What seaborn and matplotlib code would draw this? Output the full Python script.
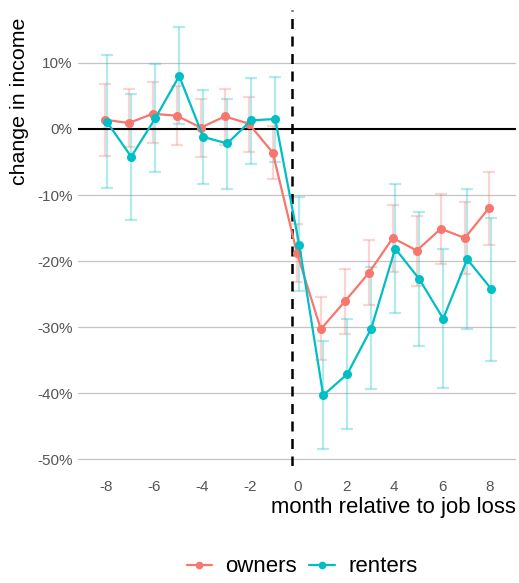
import numpy as np
import pandas as pd
import matplotlib
matplotlib.use("Agg")
import matplotlib.pyplot as plt
from matplotlib.lines import Line2D
from matplotlib.ticker import FuncFormatter
import seaborn as sns

# month relative to job loss
months = [-8, -7, -6, -5, -4, -3, -2, -1, 0, 1, 2, 3, 4, 5, 6, 7, 8]

# owners: estimate and confidence interval (fractions)
owners_est = [0.014, 0.009, 0.023, 0.020, 0.002, 0.019, 0.008, -0.036,
              -0.187, -0.303, -0.261, -0.218, -0.165, -0.184, -0.151, -0.165, -0.120]
owners_hi = [0.068, 0.060, 0.071, 0.065, 0.045, 0.061, 0.048, 0.004,
             -0.144, -0.255, -0.212, -0.168, -0.115, -0.132, -0.098, -0.111, -0.065]
owners_lo = [-0.041, -0.027, -0.022, -0.025, -0.042, -0.025, -0.035, -0.076,
             -0.232, -0.350, -0.310, -0.267, -0.216, -0.237, -0.204, -0.219, -0.176]

# renters: estimate and confidence interval (fractions)
renters_est = [0.010, -0.042, 0.016, 0.080, -0.012, -0.022, 0.013, 0.015,
               -0.175, -0.403, -0.371, -0.302, -0.181, -0.227, -0.287, -0.197, -0.242]
renters_hi = [0.112, 0.053, 0.098, 0.154, 0.059, 0.046, 0.077, 0.079,
              -0.103, -0.321, -0.288, -0.209, -0.084, -0.126, -0.182, -0.091, -0.134]
renters_lo = [-0.089, -0.138, -0.065, 0.008, -0.083, -0.091, -0.053, -0.050,
              -0.245, -0.485, -0.454, -0.394, -0.278, -0.328, -0.392, -0.303, -0.351]

groups = ["owners", "renters"]
colors = {"owners": "#F8766D", "renters": "#00BFC4"}
offsets = {"owners": -0.05, "renters": 0.05}

frames = []
for g, est, lo, hi in [("owners", owners_est, owners_lo, owners_hi),
                       ("renters", renters_est, renters_lo, renters_hi)]:
    frames.append(pd.DataFrame({
        "month": np.array(months, dtype=float) + offsets[g],
        "est": est, "lo": lo, "hi": hi, "group": g,
    }))
df = pd.concat(frames, ignore_index=True)

sns.set_theme(style="white")
plt.rcParams["font.family"] = ["Liberation Sans Narrow", "Liberation Sans", "DejaVu Sans"]
plt.rcParams["axes.unicode_minus"] = False
plt.rcParams["text.color"] = "black"

W, H = 519, 583
fig = plt.figure(figsize=(W / 100, H / 100), dpi=100)
left, right, top, bottom = 78, 516, 10, 466
ax = fig.add_axes([left / W, 1 - bottom / H, (right - left) / W, (bottom - top) / H])

# confidence intervals
for g in groups:
    d = df[df.group == g]
    ax.errorbar(d["month"], d["est"],
                yerr=[d["est"] - d["lo"], d["hi"] - d["est"]],
                fmt="none", ecolor=colors[g], alpha=0.3,
                elinewidth=1.6, capsize=4, capthick=1.6, zorder=2)

# estimates
sns.lineplot(data=df, x="month", y="est", hue="group", hue_order=groups,
             palette=colors, marker="o", markersize=6.5, markeredgewidth=0,
             linewidth=1.6, legend=False, ax=ax, zorder=3, errorbar=None,
             sort=True)

ax.axhline(0, color="black", linewidth=1.5, zorder=2.5)
ax.axvline(-0.27, color="black", linewidth=1.8, linestyle=(0, (4, 3)), zorder=2.5)

ax.set_xlim(-9.167, 9.083)
ax.set_ylim(-0.51, 0.18)
ax.set_xticks([-8, -6, -4, -2, 0, 2, 4, 6, 8])
ax.set_yticks([0.1, 0.0, -0.1, -0.2, -0.3, -0.4, -0.5])
ax.yaxis.set_major_formatter(FuncFormatter(lambda v, p: f"{v * 100:.0f}%"))
ax.grid(axis="y", color="#c4c4c4", linewidth=0.9)
ax.grid(axis="x", visible=False)
ax.set_axisbelow(True)
for s in ax.spines.values():
    s.set_visible(False)
ax.tick_params(axis="both", length=0, labelsize=11, labelcolor="#555555")
ax.tick_params(axis="x", pad=10)
ax.tick_params(axis="y", pad=4)

ax.set_xlabel("")
ax.set_ylabel("")
fig.text(right / W, 1 - 507 / H, "month relative to job loss", ha="right",
         va="center", fontsize=15.9, color="black")
fig.text(20 / W, 1 - 18 / H, "change in income", ha="center", va="top",
         rotation=90, fontsize=15.4, color="black")

handles = [Line2D([0], [0], color=colors[g], marker="o", markersize=5.5,
                  markeredgewidth=0, linewidth=1.6) for g in groups]
fig.legend(handles, groups, loc="center", bbox_to_anchor=(302 / W, 1 - 567 / H),
           ncol=2, frameon=False, fontsize=16, handlelength=1.15,
           handletextpad=0.6, columnspacing=0.55, labelcolor="black")

fig.savefig("out.png", dpi=100)
